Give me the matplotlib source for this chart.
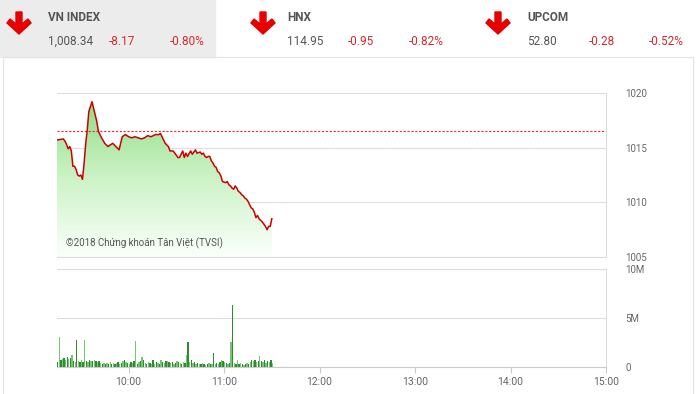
import matplotlib.pyplot as plt
import matplotlib
import numpy as np
from matplotlib.colors import LinearSegmentedColormap
from matplotlib.patches import Polygon, Rectangle

plt.rcParams['font.family'] = ['Roboto', 'DejaVu Sans']

# index line (VN INDEX, intraday)
times = ['09:15', '09:19', '09:20', '09:21', '09:22', '09:23', '09:24', '09:25', '09:26', '09:27',
         '09:28', '09:29', '09:30', '09:31', '09:32', '09:33', '09:34', '09:35', '09:37', '09:38',
         '09:40', '09:41', '09:43', '09:45', '09:47', '09:49', '09:50', '09:52', '09:54', '09:56',
         '09:58', '10:00', '10:02', '10:04', '10:06', '10:08', '10:10', '10:12', '10:14', '10:17',
         '10:19', '10:20', '10:22', '10:23', '10:25', '10:26', '10:28', '10:30', '10:31', '10:32',
         '10:34', '10:35', '10:36', '10:37', '10:39', '10:40', '10:42', '10:43', '10:45', '10:46',
         '10:47', '10:48', '10:49', '10:50', '10:51', '10:52', '10:53', '10:54', '10:55', '10:56',
         '10:57', '10:58', '10:59', '11:01', '11:02', '11:03', '11:04', '11:05', '11:06', '11:07',
         '11:08', '11:09', '11:10', '11:11', '11:12', '11:13', '11:14', '11:15', '11:16', '11:17',
         '11:18', '11:19', '11:20', '11:21', '11:22', '11:24', '11:25', '11:26', '11:27', '11:28',
         '11:29', '11:30']
index_vals = [1015.7, 1015.8, 1015.6, 1015.3, 1014.9, 1015.1, 1014.7, 1013.3, 1013.3, 1013.0,
              1012.5, 1012.4, 1012.5, 1012.1, 1013.5, 1015.3, 1016.6, 1018.3, 1019.2, 1018.6,
              1017.4, 1016.5, 1015.9, 1015.4, 1015.1, 1015.3, 1015.4, 1015.1, 1014.8, 1016.0,
              1016.2, 1016.0, 1015.9, 1016.0, 1015.9, 1015.8, 1015.9, 1016.1, 1016.0, 1016.2,
              1016.2, 1016.3, 1015.7, 1015.4, 1015.1, 1014.7, 1014.7, 1014.3, 1014.1, 1014.1,
              1014.7, 1014.1, 1014.5, 1014.2, 1014.7, 1014.4, 1014.8, 1014.5, 1014.6, 1014.4,
              1014.5, 1014.2, 1014.1, 1014.2, 1014.2, 1013.8, 1013.6, 1013.3, 1013.2, 1012.8,
              1012.7, 1012.4, 1011.9, 1011.8, 1011.9, 1011.6, 1011.5, 1011.3, 1011.2, 1011.5,
              1011.3, 1011.0, 1010.9, 1010.7, 1010.6, 1010.4, 1010.3, 1010.1, 1009.8, 1009.5,
              1009.4, 1009.1, 1008.6, 1008.8, 1008.5, 1008.2, 1008.0, 1007.8, 1007.5, 1007.8,
              1007.8, 1008.5]
ref_close = 1016.51

# volume per minute from 09:15, in millions
vol_start = '09:15'
volumes = [0.5, 3.1, 0.7, 0.8, 0.9, 0.7, 1.0, 0.8, 0.9, 1.2,
           0.6, 0.5, 2.8, 0.6, 0.5, 0.7, 0.5, 2.8, 0.6, 0.5,
           0.7, 0.6, 0.6, 0.7, 0.6, 0.5, 0.6, 0.4, 0.3, 0.4,
           0.3, 0.4, 0.3, 0.5, 0.3, 0.4, 0.3, 0.4, 0.5, 0.3,
           0.4, 0.6, 0.7, 0.5, 0.4, 0.3, 0.5, 0.4, 0.6, 2.7,
           0.3, 0.5, 0.6, 1.0, 0.7, 0.4, 0.3, 0.5, 0.4, 0.3,
           0.7, 0.3, 0.5, 0.4, 0.3, 0.7, 0.5, 0.4, 0.6, 0.6,
           0.5, 0.4, 0.5, 0.3, 0.4, 0.6, 0.5, 0.4, 0.3, 0.5,
           0.4, 1.2, 2.6, 0.5, 0.7, 0.4, 0.5, 0.3, 0.4, 0.3,
           0.3, 0.4, 0.3, 0.2, 0.3, 0.4, 0.3, 0.3, 1.4, 0.3,
           0.4, 0.3, 0.5, 0.7, 0.6, 0.5, 0.4, 0.3, 0.4, 2.6,
           6.3, 0.4, 0.3, 0.7, 0.3, 0.4, 0.3, 0.2, 0.3, 0.4,
           0.3, 0.5, 0.7, 0.6, 0.7, 0.5, 0.6, 1.1, 0.6, 0.5,
           0.7, 0.4, 0.6, 0.5, 0.7, 0.4]

hour_ticks = [10, 11, 12, 13, 14, 15]
hour_labels = ['10:00', '11:00', '12:00', '13:00', '14:00', '15:00']
price_ticks = [1005, 1010, 1015, 1020]
vol_ticks = [0, 5, 10]
vol_labels = ['0', '5M', '10M']

# header boxes
names = ['VN INDEX', 'HNX', 'UPCOM']
last = ['1,008.34', '114.95', '52.80']
change = ['-8.17', '-0.95', '-0.28']
pct = ['-0.80%', '-0.82%', '-0.52%']


def to_hours(s):
	h, m = s.split(':')
	return int(h) + int(m) / 60.0


x = np.array([to_hours(t) for t in times])
y = np.array(index_vals)
vx = to_hours(vol_start) + np.arange(len(volumes)) / 60.0

fig = plt.figure(figsize=(6.96, 3.94), dpi=100)

# background layer in pixel coords
bg = fig.add_axes([0, 0, 1, 1])
bg.set_xlim(0, 696)
bg.set_ylim(394, 0)
bg.axis('off')
bg.add_patch(Rectangle((0, 0), 215, 57, color='#ececec', zorder=0))
bg.plot([3, 693], [57, 57], color='#e3e3e3', lw=0.8)
bg.plot([3, 3], [57, 394], color='#e3e3e3', lw=0.8)
bg.plot([693, 693], [57, 394], color='#e3e3e3', lw=0.8)

red = '#d42a2a'
grey = '#555555'
arrow_x = [19, 263, 498]
text_x = [48, 287, 527]
chg_x = [109, 348, 589]
pct_right = [205, 444, 684]
for i in range(3):
	ax0 = arrow_x[i]
	# fat red down arrow
	bg.add_patch(Polygon([(ax0 - 3, 12), (ax0 + 3, 12), (ax0 + 3, 24), (ax0 + 9, 19),
	                      (ax0 + 12, 23), (ax0, 34), (ax0 - 12, 23), (ax0 - 9, 19),
	                      (ax0 - 3, 24)], closed=True, color='#e60000', zorder=3))
	bg.text(text_x[i], 17, names[i], fontsize=8.5, fontweight='bold', color=grey, va='center')
	bg.text(text_x[i], 41, last[i], fontsize=8.5, color=grey, va='center')
	bg.text(chg_x[i], 41, change[i], fontsize=8.5, color=red, va='center')
	bg.text(pct_right[i], 41, pct[i], fontsize=8.5, color=red, va='center', ha='right')

# price panel
ax = fig.add_axes([57 / 696, 1 - 257 / 394, 549 / 696, 164 / 394])
ax.set_xlim(9.25, 15.0)
ax.set_ylim(1005, 1020)
ax.patch.set_alpha(0)

# gradient fill under the line
cmap = LinearSegmentedColormap.from_list('g', ['#fbfffb', '#cdf3c7', '#8fdf86'])
grad = np.linspace(0, 1, 256).reshape(-1, 1)
poly = ax.fill_between(x, y, 1005, color='none')
img = ax.imshow(grad, cmap=cmap, aspect='auto', origin='lower',
                extent=[x.min(), x.max(), 1005, y.max()], zorder=1)
img.set_clip_path(poly.get_paths()[0], transform=ax.transData)
ax.set_xlim(9.25, 15.0)
ax.set_ylim(1005, 1020)

ax.plot(x, y, color='#cc0000', lw=1.1, zorder=3)
ax.axhline(ref_close, color='#e03030', lw=0.8, ls=(0, (2, 1.5)), zorder=2)

ax.yaxis.tick_right()
ax.set_yticks(price_ticks)
ax.set_yticklabels([str(v) for v in price_ticks])
ax.tick_params(axis='y', length=0, pad=14, labelsize=7, labelcolor='#666666')
ax.set_xticks([])
ax.grid(axis='y', color='#dddddd', lw=0.8)
ax.set_axisbelow(True)
for s in ['left', 'top']:
	ax.spines[s].set_visible(False)
for s in ['right', 'bottom']:
	ax.spines[s].set_color('#dddddd')
	ax.spines[s].set_linewidth(0.8)
ax.text(9.345, 1006.0, '©2018 Chứng khoán Tân Việt (TVSI)', fontsize=7, color='#555555', zorder=4)

# volume panel
ax2 = fig.add_axes([57 / 696, 1 - 367 / 394, 549 / 696, 98 / 394])
ax2.set_xlim(9.25, 15.0)
ax2.set_ylim(0, 10)
ax2.patch.set_alpha(0)
bar_cols = ['#2e8b2e' if i % 2 == 0 else '#74c874' for i in range(len(volumes))]
ax2.bar(vx, volumes, width=0.85 / 60, align='edge', color=bar_cols, lw=0, zorder=3)

ax2.yaxis.tick_right()
ax2.set_yticks(vol_ticks)
ax2.set_yticklabels(vol_labels)
ax2.tick_params(axis='y', length=0, pad=14, labelsize=7, labelcolor='#666666')
ax2.set_xticks(hour_ticks)
ax2.set_xticklabels(hour_labels)
ax2.tick_params(axis='x', length=4, width=0.8, color='#cccccc', labelsize=7.5,
                labelcolor='#666666', pad=3)
ax2.grid(axis='y', color='#dddddd', lw=0.8)
ax2.set_axisbelow(True)
ax2.spines['left'].set_visible(False)
ax2.spines['top'].set_color('#dddddd')
ax2.spines['right'].set_color('#dddddd')
ax2.spines['bottom'].set_color('#cccccc')
for s in ax2.spines.values():
	s.set_linewidth(0.8)

fig.savefig('out.png', dpi=100)
